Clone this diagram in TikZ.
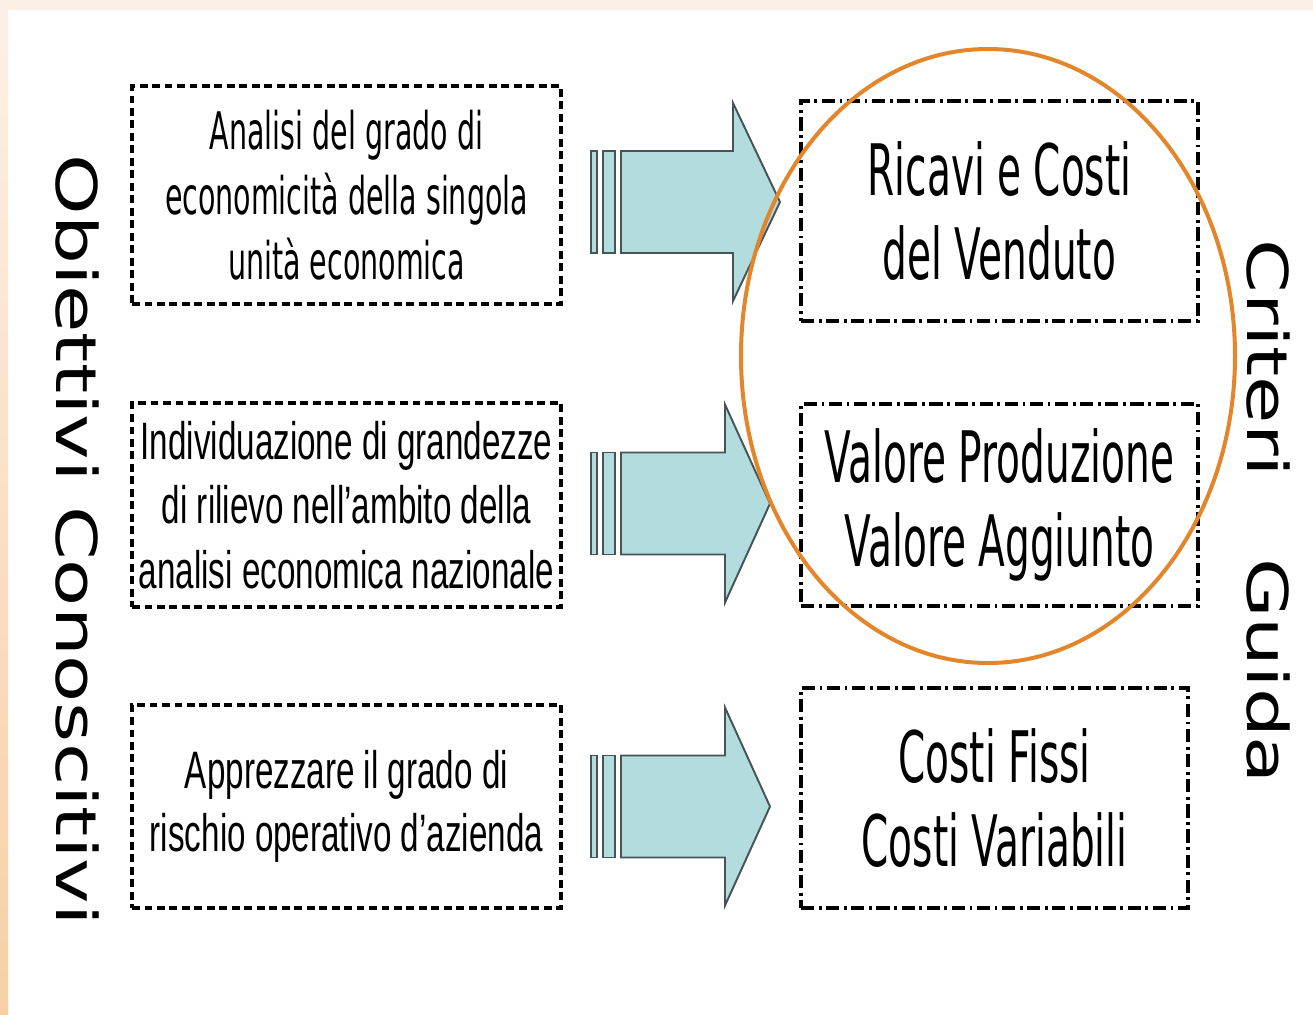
\documentclass[tikz,border=0pt]{standalone}
\usepackage{fontspec}
\newfontfamily\narrowsans[FakeStretch=0.55]{DejaVu Sans}
\newfontfamily\narrowarial[FakeStretch=0.63]{Liberation Sans}
\newfontfamily\widesans[FakeStretch=1.37]{DejaVu Sans}

\definecolor{arrowfill}{HTML}{B3DCDF}
\definecolor{arrowline}{HTML}{465456}
\definecolor{ringorange}{HTML}{E3862B}
\definecolor{peachlight}{HTML}{FCF0E6}
\definecolor{peachdark}{HTML}{F8CFA5}

\tikzset{
  objbox/.style={draw, line width=2pt, dash pattern=on 4.5pt off 2.6pt,
    align=center, inner sep=0pt, minimum width=8.58cm},
  critbox/.style={draw, line width=2pt,
    dash pattern=on 7.5pt off 2.6pt on 1.6pt off 2.6pt,
    align=center, inner sep=0pt,
    font=\narrowsans\fontsize{40.4}{48}\selectfont},
  bigarrow/.style={draw=arrowline, fill=arrowfill, line width=1.1pt},
  sidelabel/.style={rotate=-90, inner sep=0pt,
    font=\widesans\fontsize{32}{38}\selectfont}
}

\begin{document}
\begin{tikzpicture}[x=0.02cm,y=-0.02cm]
\useasboundingbox (0,0) rectangle (1313,1015);
\fill[white] (0,0) rectangle (1313,1015);
% border
\fill[peachlight] (0,0) rectangle (1313,10);
\shade[top color=peachlight, bottom color=peachdark] (0,10) rectangle (8,1015);

% left column
\node[objbox, minimum height=4.36cm, font=\narrowsans\fontsize{29.5}{36.9}\selectfont]
  (obj1) at (346.5,195) {Analisi del grado di\\economicità della singola\\unità economica};
\node[objbox, minimum height=4.08cm, font=\narrowarial\fontsize{30}{36.9}\selectfont]
  (obj2) at (346.5,505) {Individuazione di grandezze\\di rilievo nell’ambito della\\analisi economica nazionale};
\node[objbox, minimum height=4.06cm, font=\narrowarial\fontsize{30}{35.7}\selectfont]
  (obj3) at (346.5,806.5) {Apprezzare il grado di\\rischio operativo d’azienda};

% right column
\node[critbox, minimum width=7.94cm, minimum height=4.40cm]
  (crit1) at (999.5,211) {Ricavi e Costi\\del Venduto};
\node[critbox, minimum width=7.94cm, minimum height=4.04cm]
  (crit2) at (999.5,505) {Valore Produzione\\Valore Aggiunto};
\node[critbox, minimum width=7.74cm, minimum height=4.40cm]
  (crit3) at (994.5,798) {Costi Fissi\\Costi Variabili};

% striped arrows
\foreach \cy/\hx/\tx in {202/733/780, 503.5/725/770, 806.5/725/770}{
  \draw[bigarrow] (591,\cy-51) rectangle (597,\cy+51);
  \draw[bigarrow] (603,\cy-51) rectangle (615,\cy+51);
  \draw[bigarrow] (621,\cy-51) -- (\hx,\cy-51) -- (\hx,\cy-99) -- (\tx,\cy)
    -- (\hx,\cy+99) -- (\hx,\cy+51) -- (621,\cy+51) -- cycle;
}

% side titles
\node[sidelabel] (obiettivi) at (77,540) {Obiettivi Conoscitivi};
\node[sidelabel] (criteri) at (1268,512) {Criteri\hspace{46pt}Guida};

% highlight
\draw[ringorange, line width=0.08cm] (988,356) ellipse (247 and 307);
\end{tikzpicture}
\end{document}
